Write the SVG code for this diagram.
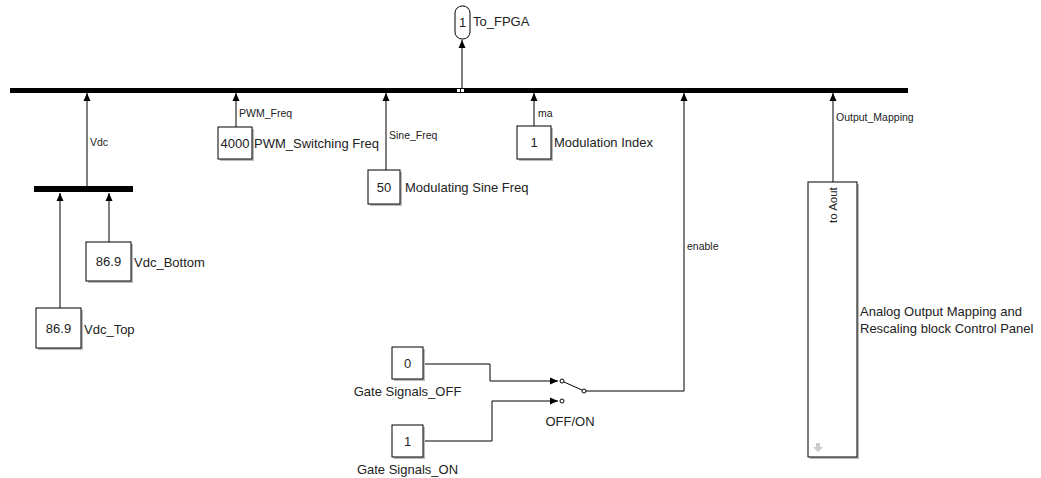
<svg xmlns="http://www.w3.org/2000/svg" width="1041" height="478" viewBox="0 0 1041 478">
<style>
text{font-family:"Liberation Sans",Arial,sans-serif;fill:#222}
.blk{fill:#fff;stroke:#000;stroke-width:1}
.sh{fill:#bbb}
.v{font-size:13px;text-anchor:middle}
.lb{font-size:13px}
.sig{font-size:10.5px}
.ln{fill:none;stroke:#000;stroke-width:1}
.bus{fill:#000}
</style>
<defs>
<marker id="ah" viewBox="0 0 8 8" refX="8" refY="4" markerWidth="8" markerHeight="8" markerUnits="userSpaceOnUse" orient="auto">
<path d="M0,0.5 L8,4 L0,7.5 Z" fill="#000"/>
</marker>
</defs>
<g id="connectors">
<line class="ln" x1="462" y1="88" x2="462" y2="40" marker-end="url(#ah)"/>
<line class="ln" x1="87" y1="187" x2="87" y2="93" marker-end="url(#ah)"/>
<line class="ln" x1="60" y1="308" x2="60" y2="193" marker-end="url(#ah)"/>
<line class="ln" x1="109" y1="242" x2="109" y2="193" marker-end="url(#ah)"/>
<line class="ln" x1="236" y1="127" x2="236" y2="93" marker-end="url(#ah)"/>
<line class="ln" x1="386" y1="170" x2="386" y2="93" marker-end="url(#ah)"/>
<line class="ln" x1="534" y1="126" x2="534" y2="93" marker-end="url(#ah)"/>
<polyline class="ln" points="585,391 684,391 684,93" marker-end="url(#ah)"/>
<line class="ln" x1="833" y1="182" x2="833" y2="93" marker-end="url(#ah)"/>
<polyline class="ln" points="423,364 490,364 490,381 558,381" marker-end="url(#ah)"/>
<polyline class="ln" points="423,441 492,441 492,401 558,401" marker-end="url(#ah)"/>
<text class="sig" x="90" y="146">Vdc</text>
<text class="sig" x="239" y="117">PWM_Freq</text>
<text class="sig" x="389" y="139">Sine_Freq</text>
<text class="sig" x="538" y="117">ma</text>
<text class="sig" x="687" y="250">enable</text>
<text class="sig" x="836" y="121">Output_Mapping</text>
</g>
<g id="main_bus">
<rect class="bus" x="10" y="88" width="898" height="5"/>
<rect x="457" y="89" width="3" height="3" fill="#fff"/>
<rect x="461" y="89" width="3" height="3" fill="#fff"/>
</g>
<g id="To_FPGA">
<rect x="455" y="6" width="15" height="33" rx="7" ry="7" fill="#fff" stroke="#000" stroke-width="1"/>
<text class="v" x="462.5" y="27">1</text>
<text class="lb" x="473" y="26">To_FPGA</text>
</g>
<g id="vdc_bus">
<rect class="bus" x="34" y="186" width="99" height="6"/>
</g>
<g id="Vdc_Bottom">
<rect class="sh" x="88" y="244" width="45" height="39"/>
<rect class="blk" x="86" y="242" width="45" height="39"/>
<text class="v" x="108.5" y="266">86.9</text>
<text class="lb" x="134" y="267">Vdc_Bottom</text>
</g>
<g id="Vdc_Top">
<rect class="sh" x="38" y="310" width="45" height="40"/>
<rect class="blk" x="36" y="308" width="45" height="40"/>
<text class="v" x="58.5" y="333">86.9</text>
<text class="lb" x="84" y="334">Vdc_Top</text>
</g>
<g id="PWM_Switching_Freq">
<rect class="sh" x="220" y="129" width="34" height="32"/>
<rect class="blk" x="218" y="127" width="34" height="32"/>
<text class="v" x="235" y="148">4000</text>
<text class="lb" x="254" y="148">PWM_Switching Freq</text>
</g>
<g id="Modulating_Sine_Freq">
<rect class="sh" x="370" y="172" width="32" height="34"/>
<rect class="blk" x="368" y="170" width="32" height="34"/>
<text class="v" x="384" y="192">50</text>
<text class="lb" x="405" y="192">Modulating Sine Freq</text>
</g>
<g id="Modulation_Index">
<rect class="sh" x="519" y="128" width="34" height="33"/>
<rect class="blk" x="517" y="126" width="34" height="33"/>
<text class="v" x="534" y="147">1</text>
<text class="lb" x="554" y="147">Modulation Index</text>
</g>
<g id="Gate_Signals_OFF">
<rect class="sh" x="394" y="349" width="31" height="32"/>
<rect class="blk" x="392" y="347" width="31" height="32"/>
<text class="v" x="407.5" y="368">0</text>
<text class="v" x="407.5" y="396">Gate Signals_OFF</text>
</g>
<g id="Gate_Signals_ON">
<rect class="sh" x="394" y="427" width="31" height="32"/>
<rect class="blk" x="392" y="425" width="31" height="32"/>
<text class="v" x="407.5" y="446">1</text>
<text class="v" x="407.5" y="474">Gate Signals_ON</text>
</g>
<g id="OFF_ON">
<circle cx="562" cy="381" r="2" fill="#fff" stroke="#000" stroke-width="1"/>
<circle cx="562" cy="401" r="2" fill="#fff" stroke="#000" stroke-width="1"/>
<circle cx="584" cy="391" r="2" fill="#fff" stroke="#000" stroke-width="1"/>
<line class="ln" x1="564" y1="382" x2="582" y2="390"/>
<text class="v" x="570" y="426">OFF/ON</text>
</g>
<g id="Analog_Output_Mapping">
<rect class="sh" x="810" y="184" width="49" height="275"/>
<rect class="blk" x="808" y="182" width="49" height="275"/>
<text font-size="11.5px" transform="translate(837,223) rotate(-90)">to Aout</text>
<path d="M816,443 h4 v4 h3 l-5,5 l-5,-5 h3 z" fill="#ccc"/>
<text class="lb" x="860" y="316">Analog Output Mapping and</text>
<text class="lb" x="860" y="333">Rescaling block Control Panel</text>
</g>
</svg>
